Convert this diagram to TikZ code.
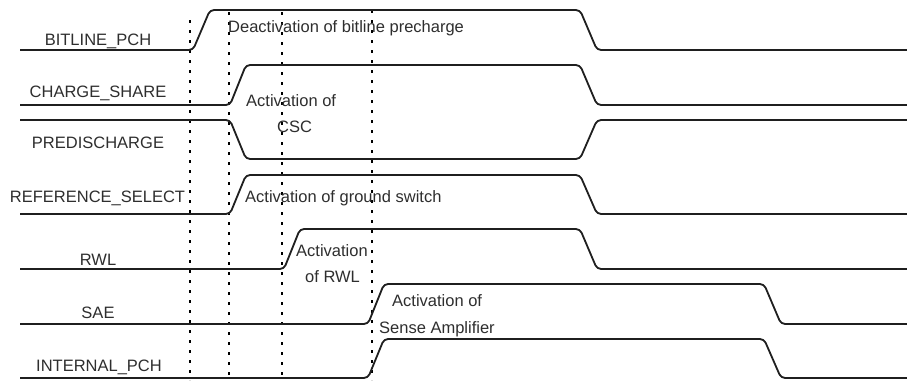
\documentclass[tikz,border=0pt]{standalone}
\usepackage{fontspec}
\setmainfont{Liberation Sans}
\begin{document}
\begin{tikzpicture}[x=1pt,y=-1pt,
  wave/.style={line width=1.8pt,color=black!88,rounded corners=4pt},
  marker/.style={line width=2.8pt,color=black,dash pattern=on 2.8pt off 7.2pt},
  siglabel/.style={anchor=base,inner sep=0pt,text=black!82,font=\fontsize{16.5}{19}\selectfont},
  note/.style={anchor=base west,inner sep=0pt,text=black!82,font=\fontsize{16.5}{19}\selectfont}]
\useasboundingbox (0,0) rectangle (907,380);

% dotted time markers
\draw[marker] (190,20) -- (190,380);
\draw[marker] (229,12) -- (229,380);
\draw[marker] (282,12) -- (282,380);
\draw[marker] (372,10) -- (372,380);

% waveforms
\draw[wave] (20,50) -- (193,50) -- (210,10) -- (580,10) -- (597,50) -- (907,50);
\draw[wave] (20,105) -- (230,105) -- (246,65) -- (580,65) -- (597,105) -- (907,105);
\draw[wave] (20,120) -- (230,120) -- (246,159) -- (580,159) -- (597,120) -- (907,120);
\draw[wave] (20,214) -- (230,214) -- (246,175) -- (580,175) -- (597,214) -- (907,214);
\draw[wave] (20,269) -- (284,269) -- (300,229) -- (580,229) -- (597,269) -- (907,269);
\draw[wave] (20,324) -- (368,324) -- (384,284) -- (764,284) -- (781,324) -- (907,324);
\draw[wave] (20,378) -- (368,378) -- (384,339) -- (764,339) -- (781,378) -- (907,378);

% signal names
\node[siglabel] (l1) at (98,45) {BITLINE\_PCH};
\node[siglabel] (l2) at (98,97) {CHARGE\_SHARE};
\node[siglabel] (l3) at (98,148) {PREDISCHARGE};
\node[siglabel] (l4) at (97.5,202) {REFERENCE\_SELECT};
\node[siglabel] (l5) at (98,265) {RWL};
\node[siglabel] (l6) at (98,318) {SAE};
\node[siglabel] (l7) at (99,371) {INTERNAL\_PCH};

% annotations
\node[note] (n1) at (228,32) {Deactivation of bitline precharge};
\node[note] (n2a) at (246,106) {Activation of};
\node[note] (n2b) at (277,132) {CSC};
\node[note] (n3) at (245,202) {Activation of ground switch};
\node[note] (n4a) at (296,256) {Activation};
\node[note] (n4b) at (305,282) {of RWL};
\node[note] (n5a) at (392,306) {Activation of};
\node[note] (n5b) at (379,333) {Sense Amplifier};
\end{tikzpicture}
\end{document}
